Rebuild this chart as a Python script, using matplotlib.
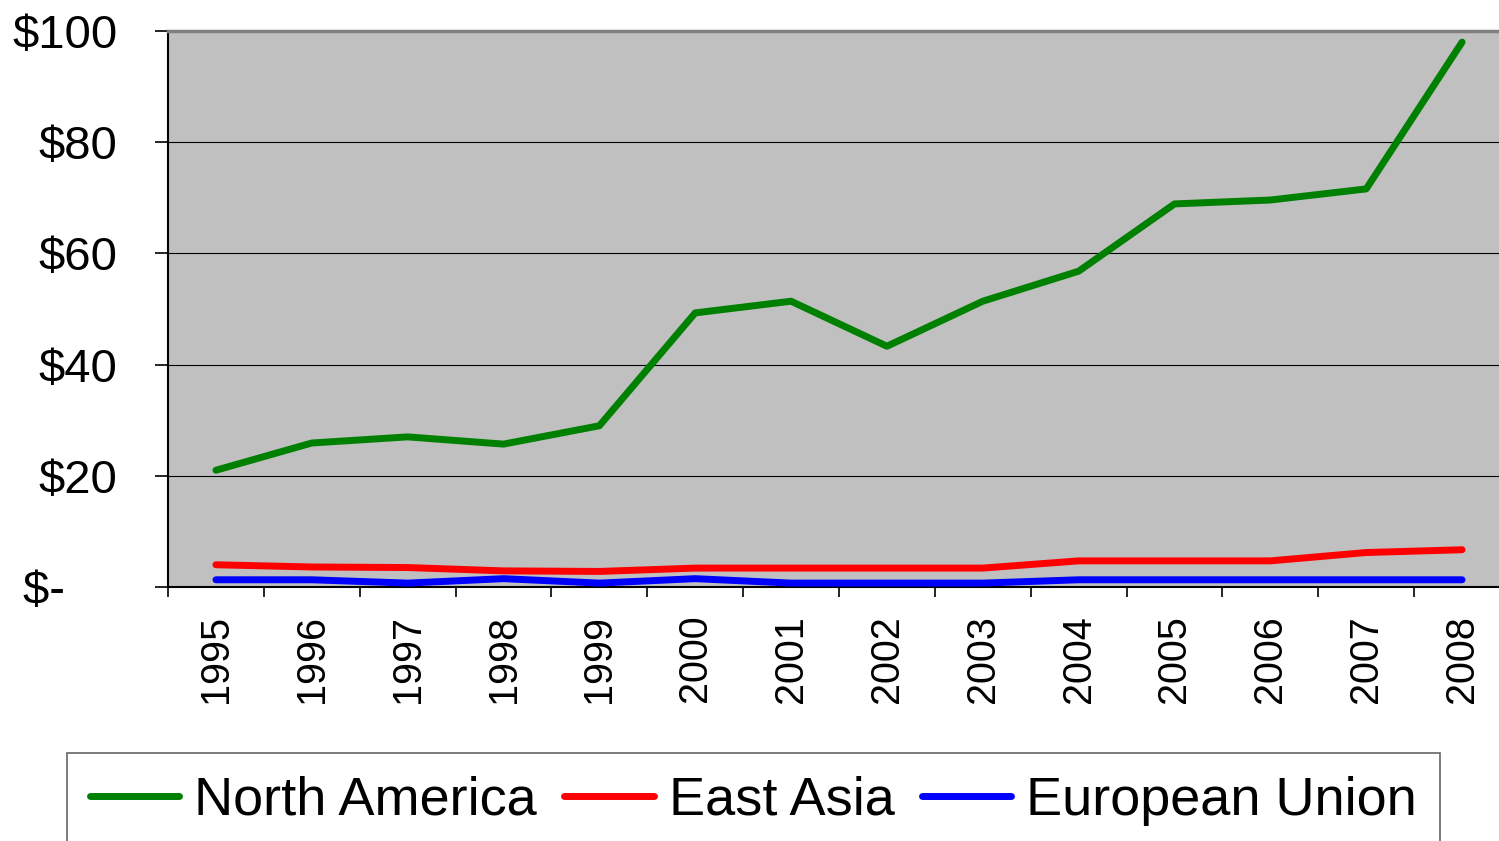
import matplotlib.pyplot as plt
import numpy as np

# ----------------------------------
# Data
# ----------------------------------
years = ["1995", "1996", "1997", "1998", "1999", "2000", "2001",
         "2002", "2003", "2004", "2005", "2006", "2007", "2008"]

north_america = [21.0, 25.9, 27.0, 25.7, 29.0, 49.3, 51.4,
                 43.3, 51.4, 56.8, 68.9, 69.6, 71.6, 98.0]
east_asia = [4.0, 3.6, 3.5, 2.9, 2.8, 3.4, 3.4,
             3.4, 3.4, 4.7, 4.7, 4.7, 6.2, 6.7]
european_union = [1.3, 1.3, 0.7, 1.5, 0.7, 1.5, 0.7,
                  0.7, 0.7, 1.3, 1.3, 1.3, 1.3, 1.3]

y_ticks = [0, 20, 40, 60, 80, 100]
y_labels = ["$-    ", "$20", "$40", "$60", "$80", "$100"]

series = [
    ("North America", north_america, "#008000"),
    ("East Asia", east_asia, "#FF0000"),
    ("European Union", european_union, "#0000FF"),
]

plt.rcParams['font.family'] = ['Liberation Sans', 'DejaVu Sans']

# ----------------------------------
# Plot
# ----------------------------------
fig = plt.figure(figsize=(14.99, 8.41), dpi=100)
ax = fig.add_axes([168 / 1499, 1 - 587 / 841, 1342 / 1499, 556 / 841])
ax.set_facecolor("#C0C0C0")

x = np.arange(len(years))
for name, values, color in series:
    ax.plot(x, values, color=color, lw=5, solid_capstyle="round",
            solid_joinstyle="round", label=name, zorder=3)

ax.set_xlim(-0.5, len(years) - 0.5)
ax.set_ylim(0, 100)

# y axis
ax.set_yticks(y_ticks)
ax.set_yticklabels(y_labels, fontsize=34)
ax.tick_params(axis="y", length=9.5, width=1.2, pad=27, color="black")
ax.grid(axis="y", color="black", lw=0.8, zorder=1)

# x axis: ticks between categories, labels at centres
ax.set_xticks(np.arange(len(years) + 1) - 0.5)
ax.set_xticklabels([])
ax.set_xticks(x, minor=True)
ax.set_xticklabels(years, minor=True, rotation=90, fontsize=28.5)
ax.tick_params(axis="x", which="major", length=7.5, width=1.2, color="black")
ax.tick_params(axis="x", which="minor", length=0, pad=20)

for side in ["left", "bottom"]:
    ax.spines[side].set_color("black")
    ax.spines[side].set_linewidth(1.5)
ax.spines["top"].set_color("#808080")
ax.spines["top"].set_linewidth(2.5)
ax.spines["right"].set_visible(False)

# ----------------------------------
# Legend
# ----------------------------------
leg = fig.legend(loc="upper left", bbox_to_anchor=(67 / 1499, 1 - 753 / 841),
                 ncol=3, fontsize=39, frameon=True, fancybox=False,
                 handlelength=1.65, handletextpad=0.28, columnspacing=0.5,
                 borderpad=0.42, borderaxespad=0)
leg.get_frame().set_edgecolor("#404040")
leg.get_frame().set_linewidth(1.2)
for line in leg.get_lines():
    line.set_linewidth(5)

fig.savefig("out.png", dpi=100)
